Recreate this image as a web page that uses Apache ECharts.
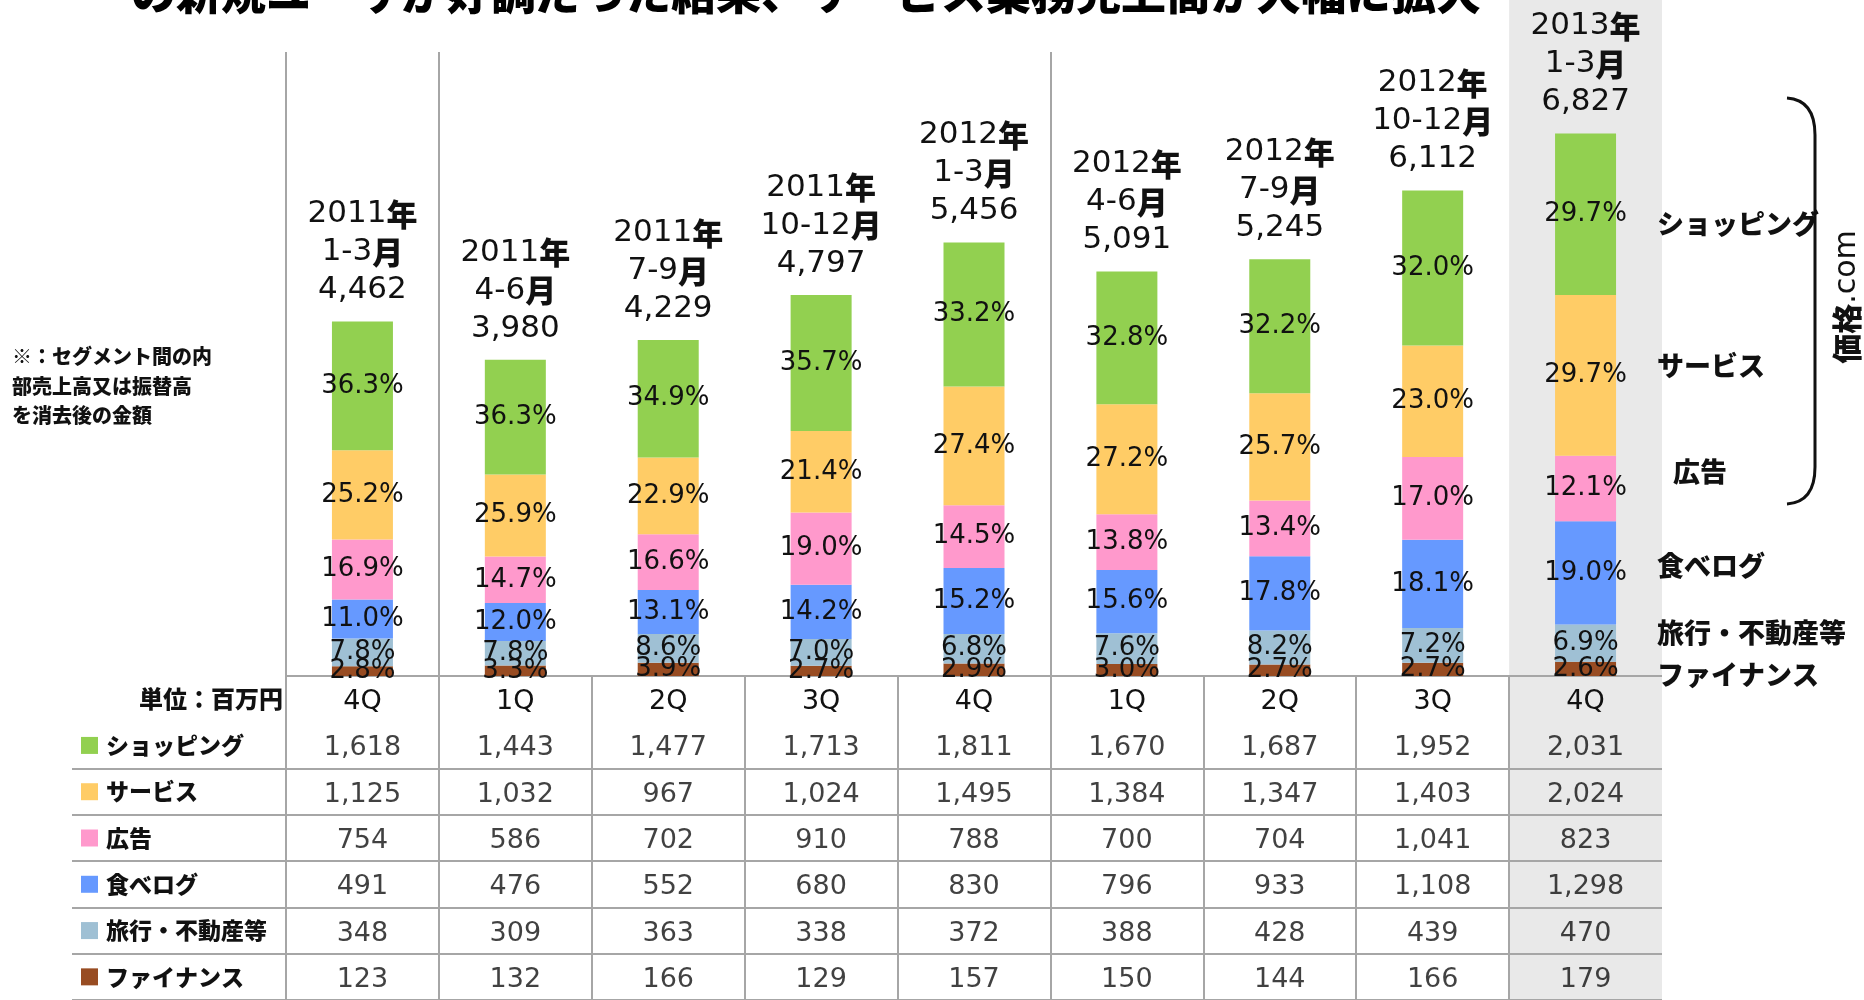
<!DOCTYPE html>
<html>
<head>
<meta charset="utf-8">
<script src="https://cdn.jsdelivr.net/npm/echarts@6/dist/echarts.min.js"></script>
<style>
html, body { margin: 0; padding: 0; background: #fff; }
#main { width: 1864px; height: 1000px; }
</style>
</head>
<body>
<div id="main"></div>
<script>
// periods / quarters
var years = ['2011', '2011', '2011', '2011', '2012', '2012', '2012', '2012', '2013'];
var months = ['1-3', '4-6', '7-9', '10-12', '1-3', '4-6', '7-9', '10-12', '1-3'];
var quarters = ['4Q', '1Q', '2Q', '3Q', '4Q', '1Q', '2Q', '3Q', '4Q'];
var totals = [4462, 3980, 4229, 4797, 5456, 5091, 5245, 6112, 6827];

// 売上高（百万円）
var shopping = [1618, 1443, 1477, 1713, 1811, 1670, 1687, 1952, 2031];
var service = [1125, 1032, 967, 1024, 1495, 1384, 1347, 1403, 2024];
var ads = [754, 586, 702, 910, 788, 700, 704, 1041, 823];
var tabelog = [491, 476, 552, 680, 830, 796, 933, 1108, 1298];
var travel = [348, 309, 363, 338, 372, 388, 428, 439, 470];
var finance = [123, 132, 166, 129, 157, 150, 144, 166, 179];

// 構成比（%）
var shoppingPct = [36.3, 36.3, 34.9, 35.7, 33.2, 32.8, 32.2, 32.0, 29.7];
var servicePct = [25.2, 25.9, 22.9, 21.4, 27.4, 27.2, 25.7, 23.0, 29.7];
var adsPct = [16.9, 14.7, 16.6, 19.0, 14.5, 13.8, 13.4, 17.0, 12.1];
var tabelogPct = [11.0, 12.0, 13.1, 14.2, 15.2, 15.6, 17.8, 18.1, 19.0];
var travelPct = [7.8, 7.8, 8.6, 7.0, 6.8, 7.6, 8.2, 7.2, 6.9];
var financePct = [2.8, 3.3, 3.9, 2.7, 2.9, 3.0, 2.7, 2.7, 2.6];

var segNames = ['ショッピング', 'サービス', '広告', '食べログ', '旅行・不動産等', 'ファイナンス'];
var segColors = ['#92D050', '#FFCC66', '#FF99CC', '#6699FF', '#9FC0D4', '#984C22'];

var segs = [
  { values: shopping, pct: shoppingPct },
  { values: service, pct: servicePct },
  { values: ads, pct: adsPct },
  { values: tabelog, pct: tabelogPct },
  { values: travel, pct: travelPct },
  { values: finance, pct: financePct }
];
segs.forEach(function (s, i) { s.name = segNames[i]; s.color = segColors[i]; });

var numFont = "'DejaVu Sans', sans-serif";
var jpFont = "'Noto Sans CJK JP', sans-serif";
var lineColor = '#a6a6a6';
var catKeys = years.map(function (y, i) { return y + '-' + months[i]; });

function fmt(v) { return v.toLocaleString('en-US'); }

var chart = echarts.init(document.getElementById('main'));

// 積み上げ棒（下から）
var series = segs.slice().reverse().map(function (s) {
  return {
    name: s.name,
    type: 'bar',
    stack: 'sales',
    xAxisIndex: 0,
    yAxisIndex: 0,
    barWidth: 61,
    barGap: '-100%',
    data: s.values,
    itemStyle: { color: s.color },
    label: {
      show: true,
      position: 'inside',
      fontFamily: numFont,
      fontSize: 26,
      color: '#111',
      formatter: function (p) { return s.pct[p.dataIndex].toFixed(1) + '%'; }
    }
  };
});

// 合計ラベル
series.push({
  type: 'bar',
  xAxisIndex: 0,
  yAxisIndex: 0,
  barWidth: 61,
  barGap: '-100%',
  data: totals,
  itemStyle: { color: 'rgba(0,0,0,0)' },
  label: {
    show: true,
    position: 'top',
    distance: 12,
    formatter: function (p) {
      var i = p.dataIndex;
      return '{d|' + years[i] + '}{k|年}\n{d|' + months[i] + '}{k|月}\n{d|' + fmt(totals[i]) + '}';
    },
    rich: {
      d: { fontFamily: numFont, fontSize: 31, color: '#111', lineHeight: 38 },
      k: { fontFamily: jpFont, fontWeight: 900, fontSize: 31, color: '#111', lineHeight: 38 }
    }
  }
});

// 表のセル
var cells = [];
segs.forEach(function (s, r) {
  s.values.forEach(function (v, c) { cells.push([c, r + 1, v]); });
});
series.push({
  type: 'scatter',
  xAxisIndex: 1,
  yAxisIndex: 1,
  symbolSize: 1,
  itemStyle: { color: 'rgba(0,0,0,0)' },
  data: cells,
  label: {
    show: true,
    position: 'inside',
    offset: [0, 3],
    fontFamily: numFont,
    fontSize: 27,
    color: '#111',
    formatter: function (p) { return fmt(p.value[2]); }
  }
});

var rowRich = {
  unit: { fontFamily: jpFont, fontWeight: 900, fontSize: 24, color: '#111', width: 202, align: 'right' },
  name: { fontFamily: jpFont, fontWeight: 900, fontSize: 23, color: '#111', padding: [0, 0, 0, 8] }
};
segColors.forEach(function (c, i) {
  rowRich['sq' + i] = { backgroundColor: c, width: 17, height: 17 };
});

var option = {
  animation: false,
  backgroundColor: '#fff',
  grid: [
    { left: 286, right: 202, top: 52, bottom: 324 },
    { left: 286, right: 202, top: 676, height: 330.4 }
  ],
  xAxis: [
    {
      type: 'category',
      gridIndex: 0,
      data: catKeys,
      axisLine: { show: false },
      axisTick: { show: false },
      axisLabel: { show: false },
      splitLine: {
        show: true,
        showMaxLine: false,
        interval: function (i) { return i === 0 || i === 1 || i === 5; },
        lineStyle: { color: lineColor, width: 2 }
      }
    },
    {
      type: 'category',
      gridIndex: 1,
      position: 'top',
      data: catKeys,
      axisLine: { show: false },
      axisTick: { show: false },
      axisLabel: {
        inside: true,
        margin: 26,
        verticalAlign: 'middle',
        fontFamily: numFont,
        fontSize: 27,
        color: '#111',
        formatter: function (v, i) { return quarters[i]; }
      },
      splitLine: {
        show: true,
        showMaxLine: false,
        interval: 0,
        lineStyle: { color: lineColor, width: 2 }
      }
    }
  ],
  yAxis: [
    {
      type: 'value',
      gridIndex: 0,
      min: 0,
      max: 7850,
      show: false,
      splitLine: { show: false }
    },
    {
      type: 'category',
      gridIndex: 1,
      inverse: true,
      data: ['単位：百万円'].concat(segNames),
      axisLine: { show: false },
      axisTick: {
        show: true,
        length: 214,
        interval: function (i) { return i >= 2; },
        lineStyle: { color: lineColor, width: 2 }
      },
      axisLabel: {
        align: 'left',
        margin: 205,
        formatter: function (v, i) {
          if (i === 0) return '{unit|' + v + '}';
          return '{sq' + (i - 1) + '|}{name|' + v + '}';
        },
        rich: rowRich
      },
      splitLine: {
        show: true,
        interval: function (i) { return i !== 1; },
        lineStyle: { color: lineColor, width: 2 }
      }
    }
  ],
  series: series
};

chart.setOption(option);

// 最新四半期の網掛け
var c0 = chart.convertToPixel({ xAxisIndex: 0 }, 0);
var c1 = chart.convertToPixel({ xAxisIndex: 0 }, 1);
var cLast = chart.convertToPixel({ xAxisIndex: 0 }, catKeys.length - 1);
var band = c1 - c0;

var rightLabels = [
  { text: 'ショッピング', x: 1657, y: 224 },
  { text: 'サービス', x: 1657, y: 366 },
  { text: '広告', x: 1673, y: 472 },
  { text: '食べログ', x: 1657, y: 566 },
  { text: '旅行・不動産等', x: 1657, y: 633 },
  { text: 'ファイナンス', x: 1657, y: 675 }
];

var bracketStyle = { fill: 'none', stroke: '#111', lineWidth: 3 };
var elements = [
  {
    type: 'rect',
    z: -10,
    shape: { x: cLast - band / 2, y: 0, width: band, height: 1000 },
    style: { fill: '#e9e9e9' }
  },
  {
    type: 'text',
    x: 131, y: 15,
    style: {
      text: 'の新規ユーザが好調だった結果、サービス業務売上高が大幅に拡大',
      font: '900 45px ' + jpFont, fill: '#000', verticalAlign: 'bottom'
    }
  },
  {
    type: 'text',
    x: 12, y: 342,
    style: {
      text: '※：セグメント間の内\n部売上高又は振替高\nを消去後の金額',
      font: '900 20px ' + jpFont, fill: '#111', lineHeight: 29.5, verticalAlign: 'top'
    }
  },
  {
    type: 'bezierCurve',
    shape: { x1: 1787, y1: 98, cpx1: 1815, cpy1: 100, x2: 1815, y2: 135 },
    style: bracketStyle
  },
  {
    type: 'line',
    shape: { x1: 1815, y1: 135, x2: 1815, y2: 467 },
    style: bracketStyle
  },
  {
    type: 'bezierCurve',
    shape: { x1: 1815, y1: 467, cpx1: 1815, cpy1: 502, x2: 1787, y2: 504 },
    style: bracketStyle
  },
  {
    type: 'text',
    x: 1847, y: 297,
    rotation: Math.PI / 2,
    style: {
      text: '{b|価格}{r|.com}',
      align: 'center', verticalAlign: 'middle',
      rich: {
        b: { fontFamily: jpFont, fontWeight: 900, fontSize: 30, fill: '#111' },
        r: { fontFamily: numFont, fontSize: 30, fill: '#111' }
      }
    }
  }
];
rightLabels.forEach(function (l) {
  elements.push({
    type: 'text',
    x: l.x, y: l.y,
    style: { text: l.text, font: '900 27px ' + jpFont, fill: '#111', verticalAlign: 'middle' }
  });
});

chart.setOption({ graphic: { elements: elements } });
</script>
</body>
</html>
